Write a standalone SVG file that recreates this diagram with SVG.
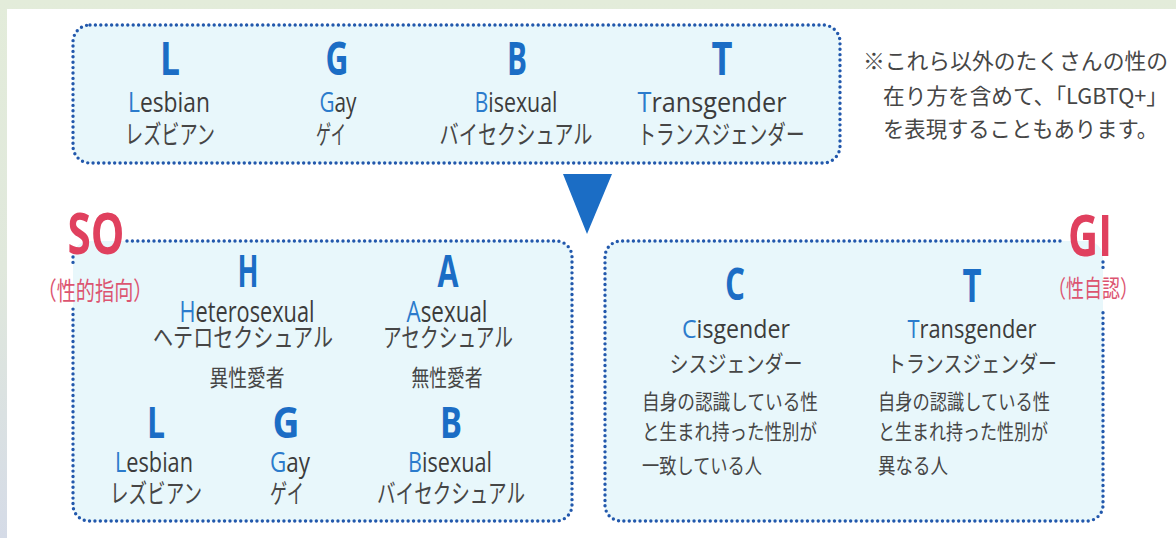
<svg xmlns="http://www.w3.org/2000/svg" width="1176" height="538" viewBox="0 0 1176 538">
<defs>
<linearGradient id="bg" x1="0" y1="0" x2="0" y2="1">
<stop offset="0" stop-color="#e3ecda"/>
<stop offset="0.5" stop-color="#e0e8dc"/>
<stop offset="1" stop-color="#d5dbe7"/>
</linearGradient>
<style>
.big{font-family:"Open Sans","Noto Sans",sans-serif;font-weight:700;fill:#1b6dc5;text-anchor:middle}
.word{font-family:"Open Sans","Noto Sans",sans-serif;font-weight:400;fill:#3c3c3c;text-anchor:middle}
.ini{fill:#2b7bcc}
.jp{font-family:"Noto Sans CJK JP","Noto Sans",sans-serif;font-weight:400;fill:#464646;text-anchor:middle}
.jpl{font-family:"Noto Sans CJK JP","Noto Sans",sans-serif;font-weight:400;fill:#464646}
.red{font-family:"Open Sans","Noto Sans",sans-serif;font-weight:700;fill:#e0405e;text-anchor:middle}
.redjp{font-family:"Noto Sans CJK JP",sans-serif;font-weight:400;fill:#dc5470;text-anchor:middle}
.fill{fill:#e8f7fb;stroke:none}
.dot{fill:none;stroke:#2258ac;stroke-width:3.4;stroke-linecap:round;stroke-dasharray:0 5.4}
</style>
</defs>
<rect x="0" y="0" width="1176" height="538" fill="url(#bg)"/>
<rect x="7" y="9" width="1169" height="529" fill="#ffffff"/>

<g id="node-lgbt">
<rect class="fill" x="73" y="25" width="767" height="138" rx="17"/>
<rect class="dot" x="73" y="25" width="767" height="138" rx="17"/>
<g id="lgbt-l">
<text class="big" x="170" y="75" font-size="47" textLength="20" lengthAdjust="spacingAndGlyphs">L</text>
<text class="word" x="169" y="112" font-size="28" textLength="82" lengthAdjust="spacingAndGlyphs"><tspan class="ini">L</tspan>esbian</text>
<text class="jp" x="170" y="144" font-size="26" textLength="90" lengthAdjust="spacingAndGlyphs">レズビアン</text>
</g>
<g id="lgbt-g">
<text class="big" x="337" y="75" font-size="47" textLength="23" lengthAdjust="spacingAndGlyphs">G</text>
<text class="word" x="338" y="112" font-size="28" textLength="37" lengthAdjust="spacingAndGlyphs"><tspan class="ini">G</tspan>ay</text>
<text class="jp" x="331" y="144" font-size="26" textLength="30" lengthAdjust="spacingAndGlyphs">ゲイ</text>
</g>
<g id="lgbt-b">
<text class="big" x="517" y="75" font-size="47" textLength="20" lengthAdjust="spacingAndGlyphs">B</text>
<text class="word" x="516" y="112" font-size="28" textLength="83" lengthAdjust="spacingAndGlyphs"><tspan class="ini">B</tspan>isexual</text>
<text class="jp" x="516" y="144" font-size="26" textLength="153" lengthAdjust="spacingAndGlyphs">バイセクシュアル</text>
</g>
<g id="lgbt-t">
<text class="big" x="722" y="75" font-size="47" textLength="21" lengthAdjust="spacingAndGlyphs">T</text>
<text class="word" x="712" y="112" font-size="28" textLength="149" lengthAdjust="spacingAndGlyphs"><tspan class="ini">T</tspan>ransgender</text>
<text class="jp" x="721" y="144" font-size="26" textLength="167" lengthAdjust="spacingAndGlyphs">トランスジェンダー</text>
</g>
</g>

<g id="node-note">
<text class="jpl" x="863" y="69" font-size="22" textLength="305" lengthAdjust="spacingAndGlyphs">※これら以外のたくさんの性の</text>
<text class="jpl" x="883" y="104" font-size="22" textLength="285" lengthAdjust="spacingAndGlyphs">在り方を含めて、「LGBTQ+」</text>
<text class="jpl" x="883" y="137" font-size="22" textLength="275" lengthAdjust="spacingAndGlyphs">を表現することもあります。</text>
</g>

<g id="connectors">
<polygon points="563,174 612,174 587,234" fill="#1b6dc5"/>
</g>

<g id="node-so">
<rect class="fill" x="73" y="241" width="499" height="280" rx="16"/>
<path class="dot" d="M127,241 H556 A16,16 0 0 1 572,257 V505 A16,16 0 0 1 556,521 H89 A16,16 0 0 1 73,505 V306"/>
<path class="dot" d="M73,257 V266"/>
<text class="red" x="96" y="254" font-size="57" textLength="57" lengthAdjust="spacingAndGlyphs">SO</text>
<text class="redjp" x="95" y="300" font-size="25" textLength="115" lengthAdjust="spacingAndGlyphs">（性的指向）</text>
<g id="so-h">
<text class="big" x="248" y="287" font-size="44" textLength="21" lengthAdjust="spacingAndGlyphs">H</text>
<text class="word" x="247" y="322" font-size="29" textLength="135" lengthAdjust="spacingAndGlyphs"><tspan class="ini">H</tspan>eterosexual</text>
<text class="jp" x="243" y="347" font-size="26" textLength="180" lengthAdjust="spacingAndGlyphs">ヘテロセクシュアル</text>
<text class="jp" x="247" y="386" font-size="23" textLength="75" lengthAdjust="spacingAndGlyphs">異性愛者</text>
</g>
<g id="so-a">
<text class="big" x="448" y="287" font-size="44" textLength="21" lengthAdjust="spacingAndGlyphs">A</text>
<text class="word" x="447" y="322" font-size="29" textLength="81" lengthAdjust="spacingAndGlyphs"><tspan class="ini">A</tspan>sexual</text>
<text class="jp" x="448" y="347" font-size="26" textLength="130" lengthAdjust="spacingAndGlyphs">アセクシュアル</text>
<text class="jp" x="447" y="386" font-size="23" textLength="71" lengthAdjust="spacingAndGlyphs">無性愛者</text>
</g>
<g id="so-l">
<text class="big" x="156" y="438" font-size="43" textLength="18" lengthAdjust="spacingAndGlyphs">L</text>
<text class="word" x="154" y="472" font-size="28" textLength="78" lengthAdjust="spacingAndGlyphs"><tspan class="ini">L</tspan>esbian</text>
<text class="jp" x="156" y="503" font-size="26" textLength="92" lengthAdjust="spacingAndGlyphs">レズビアン</text>
</g>
<g id="so-g">
<text class="big" x="286" y="438" font-size="43" textLength="27" lengthAdjust="spacingAndGlyphs">G</text>
<text class="word" x="290" y="472" font-size="28" textLength="40" lengthAdjust="spacingAndGlyphs"><tspan class="ini">G</tspan>ay</text>
<text class="jp" x="287" y="503" font-size="26" textLength="34" lengthAdjust="spacingAndGlyphs">ゲイ</text>
</g>
<g id="so-b">
<text class="big" x="451" y="438" font-size="43" textLength="22" lengthAdjust="spacingAndGlyphs">B</text>
<text class="word" x="450" y="472" font-size="28" textLength="84" lengthAdjust="spacingAndGlyphs"><tspan class="ini">B</tspan>isexual</text>
<text class="jp" x="451" y="503" font-size="26" textLength="148" lengthAdjust="spacingAndGlyphs">バイセクシュアル</text>
</g>
</g>

<g id="node-gi">
<rect class="fill" x="605" y="241" width="498" height="280" rx="16"/>
<path class="dot" d="M1060,241 H621 A16,16 0 0 0 605,257 V505 A16,16 0 0 0 621,521 H1087 A16,16 0 0 0 1103,505 V308"/>
<path class="dot" d="M1103,262 V270"/>
<text class="red" x="1090" y="256" font-size="58" textLength="44" lengthAdjust="spacingAndGlyphs">GI</text>
<text class="redjp" x="1093" y="297" font-size="24" textLength="90" lengthAdjust="spacingAndGlyphs">（性自認）</text>
<g id="gi-c">
<text class="big" x="735" y="300" font-size="44" textLength="20" lengthAdjust="spacingAndGlyphs">C</text>
<text class="word" x="736" y="338" font-size="26" textLength="108" lengthAdjust="spacingAndGlyphs"><tspan class="ini">C</tspan>isgender</text>
<text class="jp" x="736" y="372" font-size="23" textLength="133" lengthAdjust="spacingAndGlyphs">シスジェンダー</text>
<text class="jpl" x="642" y="409" font-size="21" textLength="176" lengthAdjust="spacingAndGlyphs">自身の認識している性</text>
<text class="jpl" x="642" y="439" font-size="21" textLength="175" lengthAdjust="spacingAndGlyphs">と生まれ持った性別が</text>
<text class="jpl" x="642" y="473" font-size="21" textLength="120" lengthAdjust="spacingAndGlyphs">一致している人</text>
</g>
<g id="gi-t">
<text class="big" x="972" y="302" font-size="46" textLength="19" lengthAdjust="spacingAndGlyphs">T</text>
<text class="word" x="972" y="338" font-size="26" textLength="129" lengthAdjust="spacingAndGlyphs"><tspan class="ini">T</tspan>ransgender</text>
<text class="jp" x="972" y="372" font-size="23" textLength="170" lengthAdjust="spacingAndGlyphs">トランスジェンダー</text>
<text class="jpl" x="878" y="409" font-size="21" textLength="172" lengthAdjust="spacingAndGlyphs">自身の認識している性</text>
<text class="jpl" x="878" y="439" font-size="21" textLength="170" lengthAdjust="spacingAndGlyphs">と生まれ持った性別が</text>
<text class="jpl" x="878" y="473" font-size="21" textLength="70" lengthAdjust="spacingAndGlyphs">異なる人</text>
</g>
</g>
</svg>
